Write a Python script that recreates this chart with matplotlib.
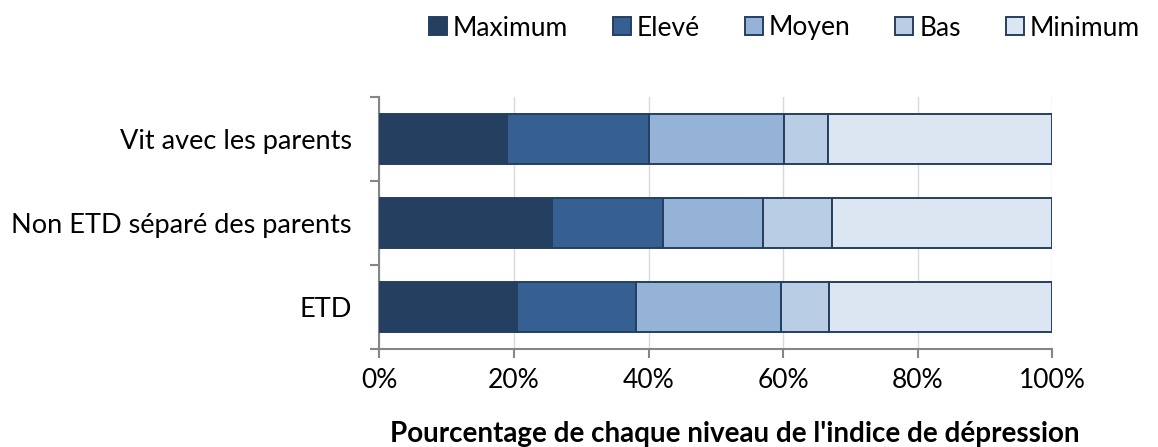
import numpy as np
import matplotlib
matplotlib.use("Agg")
from matplotlib import pyplot as plt
from matplotlib.ticker import FuncFormatter, FixedLocator

plt.rcParams['font.family'] = ['Lato', 'DejaVu Sans']

# groups, drawn bottom to top
groups = ["ETD", "Non ETD séparé des parents", "Vit avec les parents"]
levels = ["Maximum", "Elevé", "Moyen", "Bas", "Minimum"]

# share (%) of each depression level per group
maximum = [20.4, 25.7, 18.9]
eleve = [17.7, 16.5, 21.1]
moyen = [21.6, 14.8, 20.1]
bas = [7.1, 10.2, 6.5]
minimum = [33.2, 32.8, 33.4]

colors = ["#253F60", "#366092", "#95B3D7", "#B9CDE5", "#DCE6F2"]
edge = "#243F60"

fig = plt.figure(figsize=(11.58, 4.47), dpi=100)
ax = fig.add_axes([0.3276, 0.2186, 0.5812, 0.5651])

y = np.arange(len(groups))
left = np.zeros(len(groups))
for name, vals, col in zip(levels, [maximum, eleve, moyen, bas, minimum], colors):
    ax.barh(y, vals, left=left, height=0.59, color=col, edgecolor=edge,
            linewidth=1.4, label=name, zorder=3)
    left += np.array(vals)

ax.set_xlim(0, 100)
ax.set_ylim(-0.5, 2.5)
ax.set_xticks(np.arange(0, 101, 20))
ax.xaxis.set_major_formatter(FuncFormatter(lambda v, p: f"{v:.0f}%"))
ax.grid(axis="x", color="#D9D9D9", linewidth=1, zorder=0)

# category labels sit between the boundary ticks
ax.yaxis.set_major_locator(FixedLocator([-0.5, 0.5, 1.5, 2.5]))
ax.yaxis.set_major_formatter(FuncFormatter(lambda v, p: ""))
ax.yaxis.set_minor_locator(FixedLocator(y))
ax.set_yticklabels(groups, minor=True)
ax.tick_params(axis="y", which="minor", length=0, pad=20, labelsize=19.5)
ax.tick_params(axis="y", which="major", length=6.5, width=1.5, color="#868686")
ax.tick_params(axis="x", length=6.5, width=1.5, color="#868686", labelsize=19, pad=7)

for s in ["top", "right"]:
    ax.spines[s].set_visible(False)
for s in ["left", "bottom"]:
    ax.spines[s].set_color("#868686")
    ax.spines[s].set_linewidth(1.5)

fig.text(735 / 1158, 1 - 434 / 447,
         "Pourcentage de chaque niveau de l'indice de dépression",
         fontsize=20, fontweight="bold", ha="center", va="center")

fig.legend(loc="center right", bbox_to_anchor=(1140 / 1158, 1 - 28 / 447), ncol=5,
           frameon=False, fontsize=19, handlelength=0.68, handleheight=0.68,
           handletextpad=0.23, columnspacing=1.7, borderpad=0, borderaxespad=0)

fig.savefig("out.png", dpi=100)
